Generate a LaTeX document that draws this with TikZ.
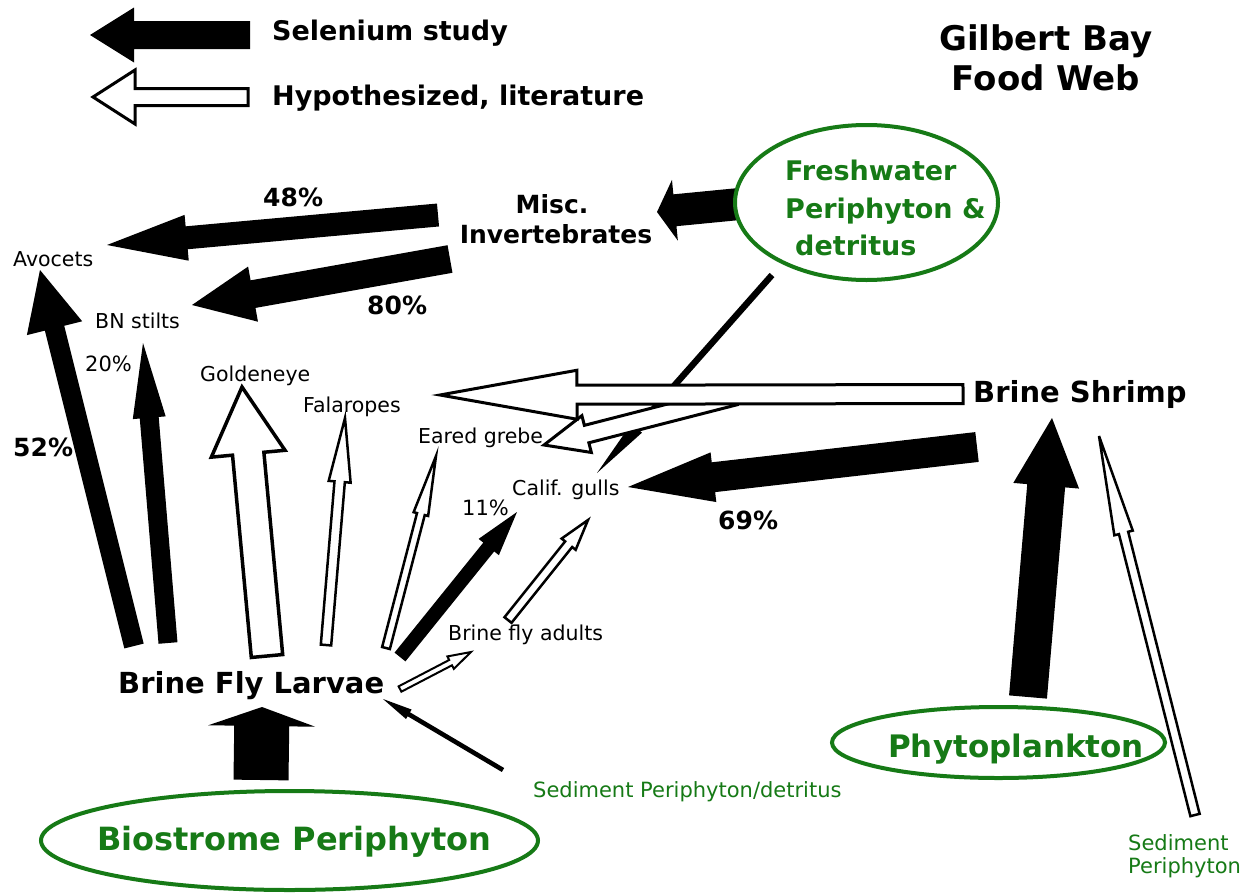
\documentclass[tikz,border=0pt]{standalone}
\usepackage{fontspec}
\setmainfont{DejaVu Sans}
\usetikzlibrary{calc,shapes.geometric}
\definecolor{fgreen}{RGB}{22,122,22}
% #1 style, #2 tail, #3 tip, #4 half shaft width, #5 half head width, #6 head length
\newcommand\blockarrow[6]{%
  \path ($(#3)!#6!(#2)$) coordinate (hbase);
  \path[#1] ($(#2)!#4!90:(#3)$) -- ($(hbase)!#4!-90:(#2)$) -- ($(hbase)!#5!-90:(#2)$) -- (#3) -- ($(hbase)!#5!90:(#2)$) -- ($(hbase)!#4!90:(#2)$) -- ($(#2)!#4!-90:(#3)$) -- cycle;
}
\begin{document}
\begin{tikzpicture}[x=1pt,y=-1pt,
  blk/.style={fill=black},
  wht/.style={fill=white,draw=black,line width=#1,line join=miter},
  wht/.default=3pt,
  ell/.style={ellipse,draw=fgreen,line width=4pt,fill=white,inner sep=0pt},
  lab/.style={inner sep=0pt,anchor=base west,font=\fontsize{20.5}{24}\selectfont},
  glab/.style={lab,text=fgreen,font=\fontsize{21}{24}\selectfont},
  plab/.style={inner sep=0pt,anchor=base west,font=\fontsize{21}{24}\selectfont},
  bpct/.style={inner sep=0pt,anchor=base west,font=\bfseries\fontsize{25}{30}\selectfont},
  blab/.style={inner sep=0pt,anchor=base west,font=\bfseries\fontsize{#1}{#1}\selectfont},
  blab/.default=29,
  gblab/.style={blab=#1,text=fgreen},
  gblab/.default=29]
\useasboundingbox (0,0) rectangle (1255,894);
\fill[white] (0,0) rectangle (1255,894);

% ---------- connector end points ----------
\coordinate (legA-t) at (250,35);  \coordinate (legA-h) at (90,35);
\coordinate (legB-t) at (248,97);  \coordinate (legB-h) at (93,97);
\coordinate (av48-t) at (438,215); \coordinate (av48-h) at (107,245);
\coordinate (st80-t) at (450,259); \coordinate (st80-h) at (192,305);
\coordinate (fm-t) at (760,202);   \coordinate (fm-h) at (657,212);
\coordinate (fcg-t) at (772,275);  \coordinate (fcg-h) at (597,473);
\coordinate (ebs-t) at (735,396);  \coordinate (ebs-h) at (544,445);
\coordinate (fbs-t) at (963,394);  \coordinate (fbs-h) at (440,395);
\coordinate (cg69-t) at (977,447); \coordinate (cg69-h) at (628,487);
\coordinate (pbs-t) at (1028,697); \coordinate (pbs-h) at (1052,418);
\coordinate (sbs-t) at (1195,815); \coordinate (sbs-h) at (1099,436);
\coordinate (bbfl-t) at (261,780); \coordinate (bbfl-h) at (262,707);
\coordinate (av52-t) at (134,646); \coordinate (av52-h) at (40,270);
\coordinate (st20-t) at (168,643); \coordinate (st20-h) at (143,343);
\coordinate (gold-t) at (267,656); \coordinate (gold-h) at (242,387);
\coordinate (fal-t) at (326,645);  \coordinate (fal-h) at (345,418);
\coordinate (eg-t) at (386,648);   \coordinate (eg-h) at (436,456);
\coordinate (cg11-t) at (400,657); \coordinate (cg11-h) at (517,512);
\coordinate (bfa-t) at (400,689);  \coordinate (bfa-h) at (471,652);
\coordinate (acg-t) at (508,620);  \coordinate (acg-h) at (588,520);
\coordinate (sed-t) at (503,770);  \coordinate (sed-h) at (383,699);

% ---------- legend arrows ----------
\blockarrow{blk}{legA-t}{legA-h}{14pt}{27.5pt}{44pt}
\blockarrow{wht}{legB-t}{legB-h}{8.5pt}{27pt}{42pt}

% ---------- food web arrows ----------
\blockarrow{blk}{av48-t}{av48-h}{11.5pt}{23pt}{80pt}
\blockarrow{blk}{st80-t}{st80-h}{14pt}{28pt}{62pt}
\blockarrow{blk}{fm-t}{fm-h}{16pt}{30.5pt}{18pt}
\blockarrow{blk}{fcg-t}{fcg-h}{3.2pt}{7pt}{60pt}
\blockarrow{wht}{ebs-t}{ebs-h}{9pt}{19pt}{44pt}
\blockarrow{wht}{fbs-t}{fbs-h}{9.5pt}{24.5pt}{137pt}
\blockarrow{blk}{cg69-t}{cg69-h}{15pt}{25pt}{86pt}
\blockarrow{blk}{pbs-t}{pbs-h}{19pt}{33pt}{68pt}
\blockarrow{wht=2.5pt}{sbs-t}{sbs-h}{4.75pt}{9.5pt}{100pt}
\blockarrow{blk}{bbfl-t}{bbfl-h}{27.5pt}{53.5pt}{19pt}
\blockarrow{blk}{av52-t}{av52-h}{10pt}{28.5pt}{60pt}
\blockarrow{blk}{st20-t}{st20-h}{9.5pt}{16.5pt}{75pt}
\blockarrow{wht=3.5pt}{gold-t}{gold-h}{15.75pt}{37pt}{67pt}
\blockarrow{wht=2.5pt}{fal-t}{fal-h}{5.2pt}{11pt}{64pt}
\blockarrow{wht=2.5pt}{eg-t}{eg-h}{4pt}{7.5pt}{60pt}
\blockarrow{blk}{cg11-t}{cg11-h}{7pt}{13pt}{45pt}
\blockarrow{wht=2pt}{bfa-t}{bfa-h}{3pt}{7pt}{23pt}
\blockarrow{wht=2.5pt}{acg-t}{acg-h}{4.5pt}{9pt}{31pt}
\blockarrow{blk}{sed-t}{sed-h}{2.3pt}{5.5pt}{30pt}

% ---------- source ellipses ----------
\node[ell,minimum width=263pt,minimum height=155pt] (fresh) at (866.5,202.5) {};
\node[ell,minimum width=333pt,minimum height=71pt] (phyto) at (998.5,742.5) {};
\node[ell,minimum width=497pt,minimum height=99pt] (bio) at (289.5,840.5) {};

% ---------- texts ----------
\node[blab=27] (sel) at (272,40) {Selenium study};
\node[blab=27] (hyp) at (272,105) {Hypothesized, literature};
\node[blab=34,anchor=base] (title1) at (1046,50) {Gilbert Bay};
\node[blab=34,anchor=base] (title2) at (1046,90) {Food Web};

\node[gblab=27] (fw1) at (785,180) {Freshwater};
\node[gblab=27] (fw2) at (785,218) {Periphyton \&};
\node[gblab=27] (fw3) at (795,255) {detritus};
\node[blab=25,anchor=base] (misc1) at (552,213) {Misc.};
\node[blab=25,anchor=base] (misc2) at (556,243) {Invertebrates};
\node[blab] (shrimp) at (973,402) {Brine Shrimp};
\node[blab] (bfl) at (118,693) {Brine Fly Larvae};
\node[gblab=31] (phytot) at (888,757) {Phytoplankton};
\node[gblab=32] (biot) at (97,850) {Biostrome Periphyton};

\node[lab] (avocets) at (13,266) {Avocets};
\node[lab] (stilts) at (95,328) {BN stilts};
\node[lab] (golden) at (200,381) {Goldeneye};
\node[lab] (falar) at (303,412) {Falaropes};
\node[lab] (grebe) at (418,443) {Eared grebe};
\node[lab] (gulls) at (512,495) {Calif. gulls};
\node[lab] (adults) at (448,640) {Brine fly adults};

\node[bpct] (p48) at (263,206) {48\%};
\node[bpct] (p80) at (367,314) {80\%};
\node[bpct] (p69) at (718,529) {69\%};
\node[bpct] (p52) at (13,456) {52\%};
\node[plab] (p20) at (85,371) {20\%};
\node[plab] (p11) at (462,515) {11\%};

\node[glab] (sedt) at (533,797) {Sediment Periphyton/detritus};
\node[glab] (sed2a) at (1128,850) {Sediment};
\node[glab] (sed2b) at (1128,873) {Periphyton};
\end{tikzpicture}
\end{document}
